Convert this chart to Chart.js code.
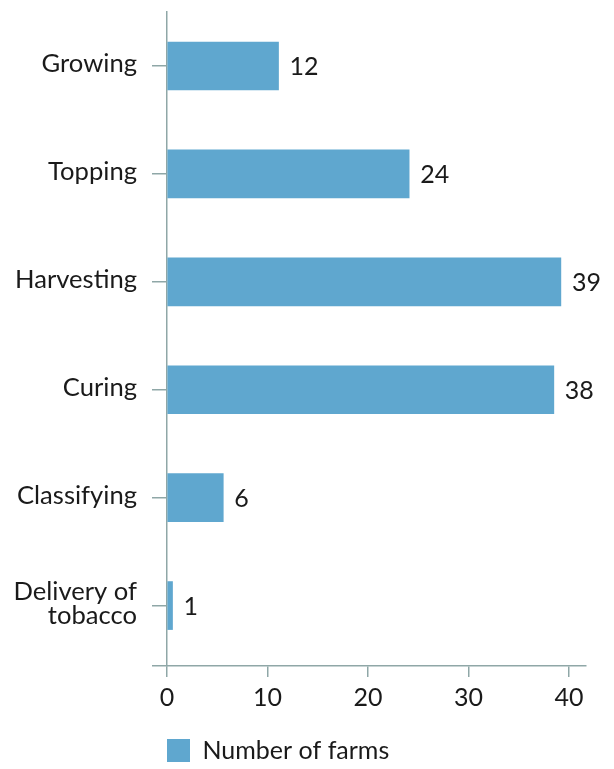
<!DOCTYPE html>
<html><head><meta charset="utf-8">
<script src="https://cdn.jsdelivr.net/npm/chart.js@4"></script>
<style>html,body{margin:0;padding:0;background:#fff}#wrap{width:614px;height:769px}</style>
</head><body><div id="wrap"><canvas id="c" width="614" height="769"></canvas></div>
<script>
const categories = [["Growing"], ["Topping"], ["Harvesting"], ["Curing"], ["Classifying"], ["Delivery of", "tobacco"]];
const farmCounts = [11.1, 24.1, 39.2, 38.5, 5.6, 0.55];
const valueLabels = ["12", "24", "39", "38", "6", "1"];
const xTicks = [0, 10, 20, 30, 40];
const seriesName = "Number of farms";

const axisColor = '#8fa7a7';
const textColor = '#1a1a1a';
const barColor = '#5fa7cf';
const FONT = {family: 'Lato', size: 25};
const Y_MIN = -0.5, Y_MAX = 5.56;

const valueLabelPlugin = {
  id: 'valueLabels',
  afterDatasetsDraw(chart) {
    const ctx = chart.ctx;
    const meta = chart.getDatasetMeta(0);
    ctx.save();
    ctx.font = FONT.size + 'px ' + FONT.family;
    ctx.fillStyle = textColor;
    ctx.textAlign = 'left';
    ctx.textBaseline = 'middle';
    meta.data.forEach((bar, i) => {
      ctx.fillText(valueLabels[i], bar.x + 11, bar.y + 1);
    });
    ctx.restore();
  }
};

new Chart(document.getElementById('c'), {
  type: 'bar',
  data: {
    datasets: [{
      label: seriesName,
      data: farmCounts.map((v, i) => ({x: v, y: i})),
      backgroundColor: barColor,
      borderWidth: 0,
      barThickness: 48
    }]
  },
  options: {
    indexAxis: 'y',
    responsive: false,
    animation: false,
    layout: {padding: {top: 12, right: 28, left: 0, bottom: -4}},
    scales: {
      x: {
        type: 'linear',
        min: 0, max: 41.7,
        afterBuildTicks: s => { s.ticks = xTicks.map(v => ({value: v})); },
        afterFit: s => { s.height = 72; s.paddingLeft = 0; s.paddingRight = 0; },
        grid: {drawOnChartArea: false, tickLength: 11, color: axisColor, lineWidth: 1.5},
        border: {color: axisColor, width: 1.5},
        ticks: {font: FONT, color: textColor, padding: 6, maxRotation: 0}
      },
      y: {
        type: 'linear',
        reverse: true,
        offset: false,
        min: Y_MIN, max: Y_MAX,
        afterBuildTicks: s => { s.ticks = categories.map((c, i) => ({value: i})).concat([{value: Y_MAX}]); },
        afterFit: s => { s.width = 167; s.paddingTop = 0; s.paddingBottom = 0; },
        grid: {offset: false, drawOnChartArea: false, tickLength: 15, color: axisColor, lineWidth: 1.5},
        border: {color: axisColor, width: 1.5},
        ticks: {
          font: {family: 'Lato', size: 25.6, lineHeight: 0.94}, color: textColor, padding: 15, labelOffset: -2,
          callback: (v, i) => categories[i] ? (categories[i].length > 1 ? categories[i] : categories[i][0]) : ''
        }
      }
    },
    plugins: {
      legend: {
        position: 'bottom',
        align: 'start',
        fullSize: false,
        labels: {font: FONT, color: textColor, boxWidth: 23, boxHeight: 23, padding: 0}
      },
      tooltip: {enabled: false}
    }
  },
  plugins: [valueLabelPlugin]
});
</script></body></html>
